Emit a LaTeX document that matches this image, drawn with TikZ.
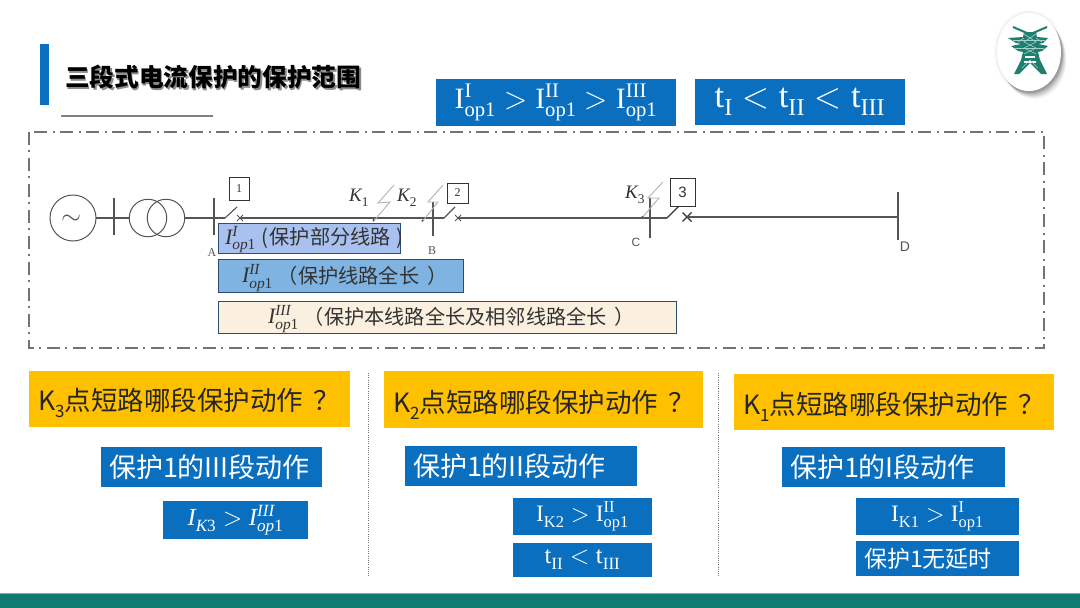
\documentclass[tikz,border=0pt]{standalone}
\usepackage{fontspec}
\usepackage{unicode-math}
\setmainfont{Noto Sans CJK SC}
\setmathfont{Latin Modern Math}
\setmathrm{Liberation Serif}
\setmathfontface\mathcmi{Liberation Serif Italic}
\newfontfamily\sansnum{Liberation Sans}
\newfontfamily\serifnum{Liberation Serif}
\usetikzlibrary{shapes.misc}
\definecolor{boxblue}{HTML}{0B6FBF}
\definecolor{gold}{HTML}{FFC000}
\definecolor{footer}{HTML}{0E7C72}
\definecolor{footertop}{HTML}{5CC0B0}
\definecolor{ink}{HTML}{333333}
\definecolor{wire}{HTML}{555555}
\definecolor{barone}{HTML}{A9C1EE}
\definecolor{bartwo}{HTML}{7FB3E2}
\definecolor{barthree}{HTML}{FBF0E0}
\definecolor{barline}{HTML}{2C4E70}
\definecolor{towerc}{HTML}{1E7F70}
\definecolor{towerl}{HTML}{A5D3C9}
\newcommand{\fs}[1]{\fontsize{#1}{#1}\selectfont}
\newcommand{\subn}[1]{\raisebox{-0.28em}{\fontsize{17}{17}\selectfont #1}}
\newcommand{\low}[2]{\raisebox{-#1pt}[10pt][10pt]{#2}}
\newcommand{\Iop}[1]{\mathcmi{I}^{\mathcmi{#1}}_{\mathcmi{op}\mathrm{1}}}
\newcommand{\Rop}[1]{\mathrm{I}^{\mathrm{#1}}_{\mathrm{op1}}}
\tikzset{
  every node/.style={inner sep=0pt,outer sep=0pt},
  wireline/.style={draw=wire,line width=1.1pt},
  busline/.style={draw=wire,line width=1.1pt},
  blade/.style={draw=wire,line width=1.1pt},
  bolt/.style={draw=black!30,line width=0.9pt,line join=miter},
  brk/.style={cross out,draw=wire,line width=0.9pt,minimum size=6pt},
  relay/.style={draw=ink,line width=0.9pt,fill=white,text=ink,align=center},
  question/.style={fill=gold,text=black!85,align=left,inner xsep=9pt,font=\fs{26.5},anchor=west},
  actbox/.style={fill=boxblue,text=white,align=left,inner xsep=8pt,font=\fs{27},anchor=west},
  mathbox/.style={fill=boxblue,text=white,align=center,anchor=west},
  rangebar/.style={draw=barline,line width=1pt,text=ink,align=center,anchor=west,font=\fs{20.2}},
  sepline/.style={draw=black!55,line width=0.8pt,dash pattern=on 1pt off 1.2pt},
  towerline/.style={draw=towerc,line width=1.5pt},
  lattice/.style={draw=towerl,line width=0.6pt},
  klabel/.style={text=ink,font=\fs{19}},
}
\begin{document}
\begin{tikzpicture}[x=1pt,y=-1pt]
\useasboundingbox (0,0) rectangle (1080,608);
\fill[white] (0,0) rectangle (1080,608);

% title
\fill[boxblue] (40,44) rectangle (49,105);
\node[text=black!45,font=\fs{24.7}\bfseries,anchor=west] at (66.5,78.5) {三段式电流保护的保护范围};
\node[text=black,font=\fs{24.7}\bfseries,anchor=west] (title) at (65,77) {三段式电流保护的保护范围};
\draw[black!50,line width=1.2pt] (61,116) -- (213,116);

% logo
\foreach \o/\a in {8/0.03,7/0.04,6/0.05,5/0.06,4/0.07,3/0.08,2/0.08}{
  \fill[black,opacity=\a] (1029+\o*0.7,52+\o) ellipse [x radius=32,y radius=39];
}
\foreach \o/\a in {3/0.015,2/0.02,1/0.03}{
  \fill[black,opacity=\a] (1029,52) ellipse [x radius=32+\o,y radius=39+\o];
}
\fill[white] (1029,52) ellipse [x radius=32,y radius=39];
\draw[towerline,line width=2pt] (1013,27) -- (1027,33);
\draw[towerline,line width=2pt] (1047,27) -- (1033,33);
\fill[towerc] (1024,32) -- (1036,32) -- (1037,37) -- (1048,38) -- (1043,43) -- (1038,44)
  -- (1048,46) -- (1042,51) -- (1038,52) -- (1040,60) -- (1047,74) -- (1041,74) -- (1030,63)
  -- (1019,74) -- (1014,74) -- (1021,60) -- (1023,52) -- (1018,51) -- (1011,46) -- (1021,44)
  -- (1016,43) -- (1008,38) -- (1023,37) -- cycle;
\draw[lattice] (1024,34) -- (1036,42) -- (1024,48) -- (1036,54);
\draw[lattice] (1036,34) -- (1024,42) -- (1036,48) -- (1024,54);
\draw[lattice] (1013,40) -- (1045,40);
\draw[lattice] (1015,48) -- (1044,48);
\draw[lattice] (1018,42) -- (1024,38) (1042,42) -- (1036,38);
\draw[white,line width=1.2pt] (1025,57) -- (1035,57);
\draw[white,line width=1.2pt] (1024,62) -- (1036,62);
\draw[lattice] (1022,68) -- (1030,60) -- (1038,68);

% top formula boxes
\node[mathbox,minimum width=240pt,minimum height=47pt,font=\fs{29.5}] (fI) at (436,102.5)
  {$\Rop{I}>\Rop{II}>\Rop{III}$};
\node[mathbox,minimum width=210pt,minimum height=46pt,font=\fs{34.5}] (ft) at (695,102)
  {$\mathrm{t}_{\mathrm{I}}<\mathrm{t}_{\mathrm{II}}<\mathrm{t}_{\mathrm{III}}$};

% frame
\draw[black!55,line width=1.6pt,dash pattern=on 13pt off 5pt on 2pt off 6pt] (29,132) rectangle (1044,348);

% one-line diagram
\node[draw=wire,line width=1pt,circle,minimum size=46pt] (gen) at (73,218) {};
\node[text=wire,font=\fs{26}] (tilde) at (72,220) {$\sim$};
\node[draw=wire,line width=1pt,circle,minimum size=37.5pt] (tr1) at (148,218) {};
\node[draw=wire,line width=1pt,circle,minimum size=37.5pt] (tr2) at (166,218) {};
\coordinate (Gt) at (114,198); \coordinate (Gb) at (114,235); \coordinate (Gm) at (114,218);
\coordinate (At) at (214,198); \coordinate (Ab) at (214,235); \coordinate (Am) at (214,218);
\coordinate (Bt) at (433,202); \coordinate (Bb) at (433,236); \coordinate (Bm) at (433,218);
\coordinate (Ct) at (650,198); \coordinate (Cb) at (650,238); \coordinate (Cm) at (650,218);
\coordinate (Dt) at (898,192); \coordinate (Db) at (898,240); \coordinate (Dm) at (898,217);
\draw[busline] (Gt) -- (Gb); \draw[busline] (At) -- (Ab);
\draw[busline] (Bt) -- (Bb); \draw[busline] (Ct) -- (Cb); \draw[busline] (Dt) -- (Dm) -- (Db);
\draw[wireline] (gen.east) -- (Gm) -- (tr1.west);
\draw[wireline] (tr2.east) -- (Am);
% switches
\coordinate (s1a) at (225,218); \coordinate (s1b) at (237,207);
\coordinate (s2a) at (444,218); \coordinate (s2b) at (455,207);
\coordinate (s3a) at (667,218); \coordinate (s3b) at (682,203);
\node[brk] (x1) at (240,218) {};
\node[brk] (x2) at (458,218) {};
\node[brk,line width=1.4pt,draw=black!80,minimum size=9pt] (x3) at (687,217) {};
\draw[wireline] (Am) -- (s1a); \draw[blade] (s1a) -- (s1b);
\draw[wireline] (x1.center) -- (Bm) -- (s2a); \draw[blade] (s2a) -- (s2b);
\draw[wireline] (x2.center) -- (Cm) -- (s3a);
\draw[blade,line width=1.4pt,draw=black!80] (s3a) -- (s3b);
\draw[wireline] (x3.center) -- (Dm);
% relay boxes
\node[relay,minimum width=20pt,minimum height=23pt,font=\serifnum\fs{12}] (r1) at (239,188.5) {1};
\node[relay,minimum width=21pt,minimum height=20pt,font=\serifnum\fs{12}] (r2) at (457.5,193) {2};
\node[relay,minimum width=25pt,minimum height=28pt,font=\sansnum\fs{15}] (r3) at (682.5,192) {3};
% bolts
\draw[bolt] (394,185) -- (378,203) -- (390,202) -- (373,222);
\draw[bolt] (443,185) -- (428,202) -- (438,202) -- (422,222);
\draw[bolt] (663,182) -- (648,198) -- (659,198) -- (642,218);
\fill[wire] (373.5,220) circle [radius=1.2];
\fill[wire] (422.5,220.5) circle [radius=1.2];
\fill[wire] (642.5,217) circle [radius=1.2];
% labels
\node[klabel] (K1) at (359,198) {$\mathcmi{K}_{\mathrm{1}}$};
\node[klabel] (K2) at (407,198) {$\mathcmi{K}_{\mathrm{2}}$};
\node[klabel] (K3) at (635,195) {$\mathcmi{K}_{\mathrm{3}}$};
\node[text=wire,font=\serifnum\fs{12}] (la) at (212,253) {A};
\node[text=wire,font=\serifnum\fs{12}] (lb) at (432,251) {B};
\node[text=wire,font=\sansnum\fs{12}] (lc) at (636,242) {C};
\node[text=wire,font=\sansnum\fs{14}] (ld) at (905,247) {D};

% range bars
\node[rangebar,fill=barone,minimum width=182pt,minimum height=30pt] (bar1) at (218,238) {};
\node[anchor=west,text=ink,font=\fs{20.2}] (bar1t) at (225,239.5)
  {\raisebox{-1.5pt}{\fs{22}$\Iop{I}$}\hspace{6pt}\raisebox{-2pt}{(\hspace{1pt}保护部分线路\hspace{6pt})}};
\node[rangebar,fill=bartwo,minimum width=245pt,minimum height=33pt] (bar2) at (218,275.5) {};
\node[anchor=west,text=ink,font=\fs{20.2}] (bar2t) at (242,278)
  {\raisebox{-1.5pt}{\fs{22}$\Iop{II}$}\hspace{5pt}\raisebox{-2pt}{（保护线路全长\hspace{8pt}）}};
\node[rangebar,fill=barthree,minimum width=458pt,minimum height=32pt] (bar3) at (218,317) {};
\node[anchor=west,text=ink,font=\fs{20.2}] (bar3t) at (268,319)
  {\raisebox{-1.5pt}{\fs{22}$\Iop{III}$}\hspace{5pt}\raisebox{-2pt}{（保护本线路全长及相邻线路全长\hspace{8pt}）}};

% separators
\coordinate (sa1) at (368.5,373); \coordinate (sa2) at (368.5,577);
\coordinate (sb1) at (718.5,373); \coordinate (sb2) at (718.5,577);
\draw[sepline] (sa1) -- (sa2);
\draw[sepline] (sb1) -- (sb2);

% column 1
\node[question,text width=303pt,minimum height=56pt] (q3) at (29,399) {\low{11}{K\subn{3}点短路哪段保护动作\hspace{10pt}？}};
\node[actbox,text width=205pt,minimum height=40pt] (a3) at (101,467) {保护1的III段动作};
\node[mathbox,minimum width=145pt,minimum height=38pt,font=\fs{24.5}] (m3) at (163,520)
  {$\mathcmi{I}_{\mathcmi{K}\mathrm{3}}>\Iop{III}$};

% column 2
\node[question,text width=301pt,minimum height=57pt] (q2) at (384,399.5) {\low{13}{K\subn{2}点短路哪段保护动作\hspace{10pt}？}};
\node[actbox,text width=216pt,minimum height=40pt] (a2) at (405,466) {保护1的II段动作};
\node[mathbox,minimum width=139pt,minimum height=37pt,font=\fs{23.5}] (m2a) at (513,516.5)
  {$\mathrm{I}_{\mathrm{K2}}>\Rop{II}$};
\node[mathbox,minimum width=139pt,minimum height=34pt,font=\fs{24.5}] (m2b) at (513,560)
  {$\mathrm{t}_{\mathrm{II}}<\mathrm{t}_{\mathrm{III}}$};

% column 3
\node[question,text width=302pt,minimum height=56pt] (q1) at (734,402) {\low{12}{K\subn{1}点短路哪段保护动作\hspace{10pt}？}};
\node[actbox,text width=207pt,minimum height=40pt] (a1) at (782,467) {保护1的I段动作};
\node[mathbox,minimum width=163pt,minimum height=37pt,font=\fs{23.5}] (m1a) at (856,516.5)
  {$\mathrm{I}_{\mathrm{K1}}>\Rop{I}$};
\node[actbox,text width=147pt,minimum height=35pt,font=\fs{23}] (m1b) at (856,558.5) {保护1无延时};

% footer
\fill[footer] (0,593) rectangle (1080,608);
\draw[footertop,line width=0.7pt] (0,593) -- (1080,593);
\end{tikzpicture}
\end{document}
